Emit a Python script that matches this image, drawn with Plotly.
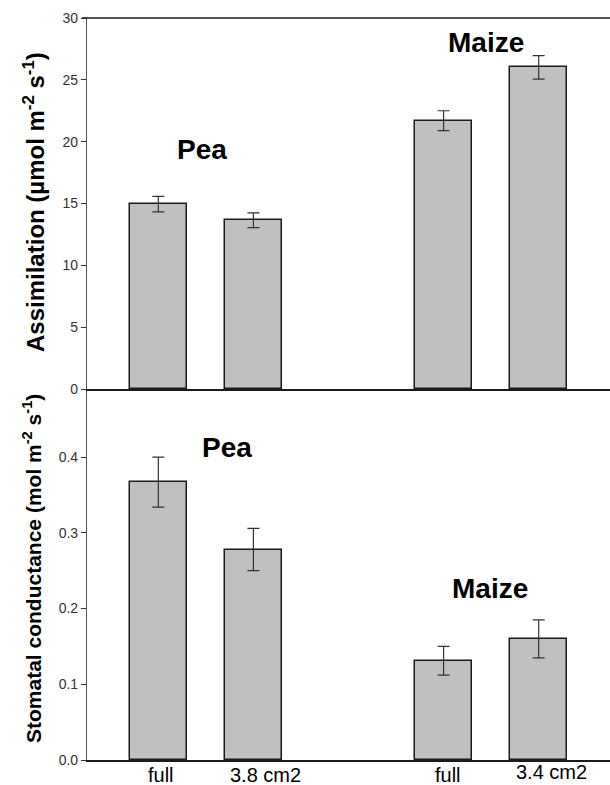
import plotly.graph_objects as go

# Data
positions = [1, 2, 4, 5]
x_labels = ["full", "3.8 cm2", "full", "3.4 cm2"]
assim = [14.95, 13.65, 21.7, 26.0]
assim_err = [0.63, 0.6, 0.8, 0.95]
gs = [0.367, 0.278, 0.131, 0.160]
gs_err = [0.033, 0.028, 0.019, 0.025]
top_ticks = [0, 5, 10, 15, 20, 25, 30]
bot_ticks = [0.0, 0.1, 0.2, 0.3, 0.4]
bot_ticktext = ["0.0", "0.1", "0.2", "0.3", "0.4"]

FONT = "Arial, Liberation Sans, sans-serif"
BAR_FILL = "#c0c0c0"
LINE = "#1a1a1a"

W, H = 610, 785
L, R, T, B = 87, 0, 18, 25
PW = W - L - R
PH = H - T - B

fig = go.Figure()
fig.add_trace(go.Bar(
    x=positions, y=assim, width=0.6,
    marker=dict(color=BAR_FILL, line=dict(color=LINE, width=1.5)),
    error_y=dict(type="data", array=assim_err, color="#333333", thickness=1.2, width=6),
    xaxis="x2", yaxis="y2", showlegend=False))
fig.add_trace(go.Bar(
    x=positions, y=gs, width=0.6,
    marker=dict(color=BAR_FILL, line=dict(color=LINE, width=1.5)),
    error_y=dict(type="data", array=gs_err, color="#333333", thickness=1.2, width=6),
    xaxis="x", yaxis="y", showlegend=False))

split = (H - B - 389) / PH

axis_common = dict(showgrid=False, zeroline=False, showline=True, linecolor="#555555",
                   linewidth=1.2, ticks="outside", ticklen=5, tickcolor="#333333",
                   tickwidth=1, tickfont=dict(family=FONT, size=14, color="#333333"))

fig.update_layout(
    width=W, height=H,
    margin=dict(l=L, r=R, t=T, b=B),
    plot_bgcolor="white", paper_bgcolor="white",
    font=dict(family=FONT),
    xaxis=dict(range=[0.25, 5.75], showgrid=False, zeroline=False, showline=True,
               linecolor=LINE, linewidth=1.5, ticks="", showticklabels=False,
               anchor="y"),
    xaxis2=dict(range=[0.25, 5.75], showgrid=False, zeroline=False, showline=True,
                linecolor=LINE, linewidth=1.5, ticks="", showticklabels=False,
                anchor="y2", matches="x"),
    yaxis=dict(domain=[0, split], range=[0, 0.49], tickvals=bot_ticks,
               ticktext=bot_ticktext, anchor="x", **axis_common),
    yaxis2=dict(domain=[split, 1], range=[0, 30], tickvals=top_ticks,
                anchor="x2", **axis_common),
    bargap=0,
)

# Top border line of the upper panel
fig.add_shape(type="line", xref="paper", yref="paper", x0=-5 / PW, x1=1, y0=1, y1=1,
              line=dict(color=LINE, width=1.5))

# Axis titles
fig.add_annotation(text="<b>Assimilation (µmol m<sup>-2</sup> s<sup>-1</sup>)</b>",
                   xref="paper", yref="paper", x=(34 - L) / PW, y=(H - B - 202) / PH,
                   xanchor="center", yanchor="middle",
                   textangle=-90, showarrow=False,
                   font=dict(family=FONT, size=24, color="black"))
fig.add_annotation(text="<b>Stomatal conductance (mol m<sup>-2</sup> s<sup>-1</sup>)</b>",
                   xref="paper", yref="paper", x=(32 - L) / PW, y=(H - B - 569) / PH,
                   xanchor="center", yanchor="middle",
                   textangle=-90, showarrow=False,
                   font=dict(family=FONT, size=21, color="black"))

# Group labels
group_font = dict(family=FONT, size=28, color="black")
fig.add_annotation(text="<b>Pea</b>", x=1.46, y=19.4, xref="x2", yref="y2",
                   showarrow=False, font=group_font)
fig.add_annotation(text="<b>Maize</b>", x=4.45, y=28.0, xref="x2", yref="y2",
                   showarrow=False, font=group_font)
fig.add_annotation(text="<b>Pea</b>", x=1.72, y=0.413, xref="x", yref="y",
                   showarrow=False, font=group_font)
fig.add_annotation(text="<b>Maize</b>", x=4.49, y=0.226, xref="x", yref="y",
                   showarrow=False, font=group_font)

# X category labels
label_shift = [3, 12, 4, 13]
label_yshift = [-15, -15, -15, -12]
for p, lab, dx, dy in zip(positions, x_labels, label_shift, label_yshift):
    fig.add_annotation(text=lab, x=p, y=0, xref="x", yref="y", showarrow=False,
                       xshift=dx, yshift=dy, yanchor="middle",
                       font=dict(family=FONT, size=20, color="black"))

fig.write_html("out.html", config={"displayModeBar": False},
               post_script="document.body.style.margin='0';")
